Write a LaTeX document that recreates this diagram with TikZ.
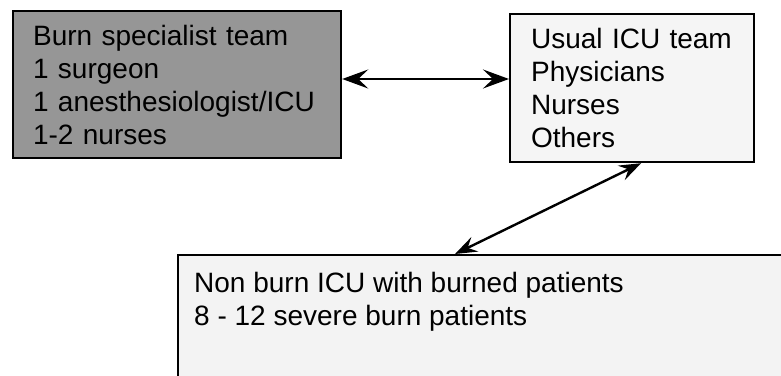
\documentclass[tikz,border=0pt]{standalone}
\usepackage{fontspec}
\setmainfont{Liberation Sans}
\usetikzlibrary{arrows.meta}
\begin{document}
\begin{tikzpicture}[x=1pt,y=-1pt,
  box/.style={draw=black, line width=2.2pt, rectangle, anchor=north west,
    align=left, font=\fontsize{28}{33}\selectfont, inner ysep=0pt},
  txt/.style={anchor=north west, align=left, inner sep=0pt,
    font=\fontsize{28}{33}\selectfont},
  link/.style={line width=2.4pt, {Stealth[length=26pt,width=19pt,inset=10pt]}-{Stealth[length=26pt,width=19pt,inset=10pt]}},
  link2/.style={line width=2.4pt, {Stealth[length=22pt,width=16pt,inset=8pt]}-{Stealth[length=22pt,width=16pt,inset=8pt]}}
]
\useasboundingbox (0,0) rectangle (781,375);
\clip (0,0) rectangle (781,375);
\fill[white] (0,0) rectangle (781,375);

\node[box, fill={rgb,255:red,150;green,150;blue,150}, minimum width=328pt, minimum height=147pt,
  text width=288pt, inner xsep=20pt] (b1) at (12,10)
  {Burn specialist team\\1 surgeon\\1 anesthesiologist/ICU\\1-2 nurses};

\node[box, fill={rgb,255:red,245;green,245;blue,245}, minimum width=244pt, minimum height=148pt,
  text width=202pt, inner xsep=21pt] (b2) at (509,13)
  {Usual ICU team\\Physicians\\Nurses\\Others};

\node[box, fill={rgb,255:red,243;green,243;blue,243}, minimum width=640pt, minimum height=180pt] (b3) at (177,254) {};
\node[txt] (b3t) at (194,272) {Non burn ICU with burned patients\\8 - 12 severe burn patients};

\coordinate (a2) at ([xshift=9pt]b2.south);
\coordinate (a3) at ([xshift=278pt]b3.north west);

\draw[link] (b1.east |- 0,79) -- (b2.west |- 0,79);
\draw[link2] (a2) -- (a3);
\end{tikzpicture}
\end{document}
